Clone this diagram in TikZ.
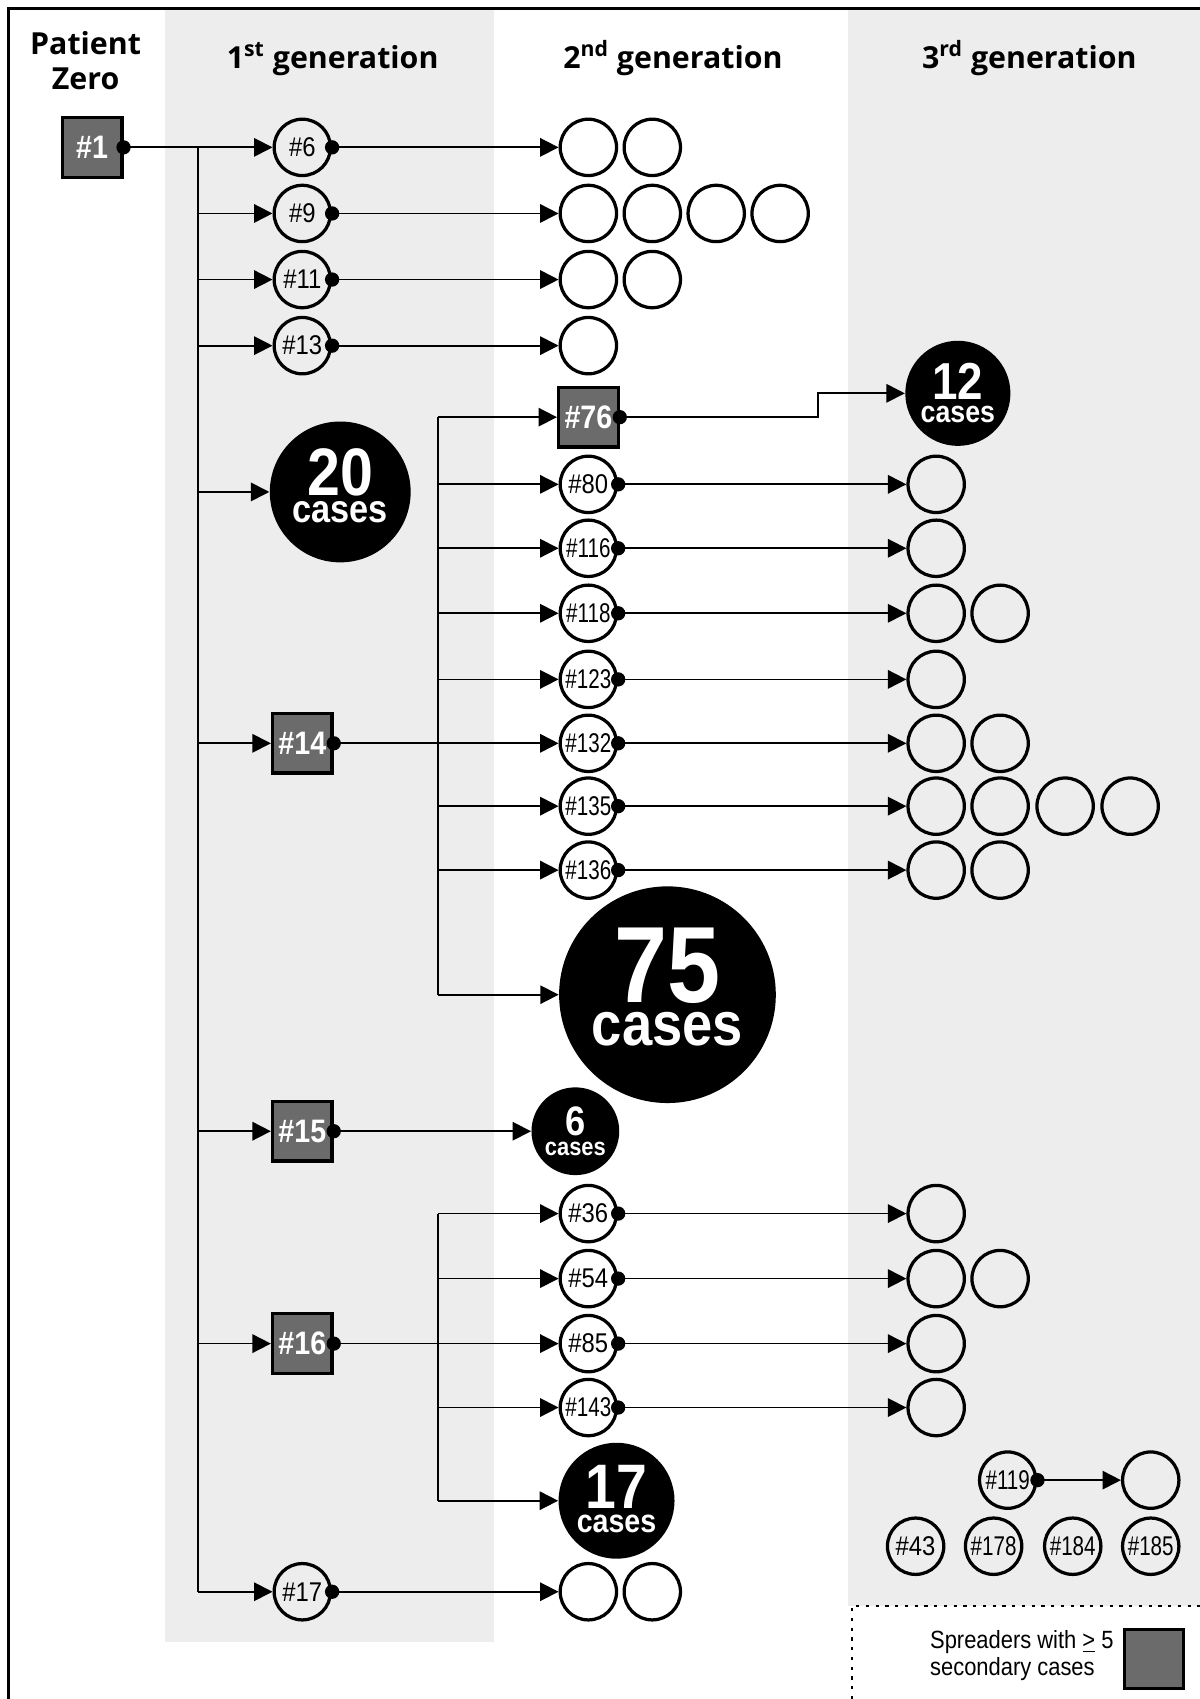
\documentclass[tikz,border=0pt]{standalone}
\usepackage{fontspec}
\setmainfont{Liberation Sans}
\newfontfamily\hdrfont{Open Sans}
\newfontfamily\lblfont[FakeStretch=0.88]{Liberation Sans}
\newfontfamily\lblnfont[FakeStretch=0.76]{Liberation Sans}
\newfontfamily\bigfont[FakeStretch=0.88]{Liberation Sans}
\usetikzlibrary{arrows.meta}
\definecolor{bandgray}{RGB}{237,237,237}
\definecolor{sgray}{RGB}{107,107,107}
\newcommand\casetext[5]{\vbox{\offinterlineskip\hbox to 0pt{\hss\fontsize{#1}{#1}\selectfont #2\hss}\kern#4\hbox to 0pt{\hss\fontsize{#3}{#3}\selectfont cases\hss}\kern#5}}
\begin{document}
\begin{tikzpicture}[x=0.5pt,y=-0.5pt,
  conn/.style={line width=0.8pt},
  arr/.style={conn,-{Triangle[length=8.5pt,width=8.5pt]}},
  pcase/.style={circle,draw,line width=1.5pt,minimum size=26pt,inner sep=0pt,font=\lblfont\fontsize{12.5}{12.5}\selectfont},
  pcasen/.style={pcase,font=\lblnfont\fontsize{12.5}{12.5}\selectfont},
  ocase/.style={circle,draw,line width=1.5pt,minimum size=26pt,inner sep=0pt},
  spread/.style={rectangle,draw,line width=1.5pt,fill=sgray,minimum size=27.5pt,inner sep=0pt,text=white,font=\bigfont\bfseries\fontsize{15}{15}\selectfont},
  cluster/.style={circle,fill=black,text=white,inner sep=0pt,font=\bigfont\bfseries},
  hdr/.style={font=\hdrfont\bfseries\fontsize{14}{16}\selectfont,inner sep=0pt}
]
\useasboundingbox (0,0) rectangle (1107,1568);
% bands
\fill[bandgray] (152,8) rectangle (456,1515);
\fill[bandgray] (783,8) rectangle (1107,1482);
\draw[line width=1.2pt] (8,1568) -- (8,8) -- (1107,8);
\draw[line width=1pt,dash pattern=on 1.5pt off 3pt] (786,1568) -- (786,1482) -- (1107,1482);

% headers
\node[hdr,align=center,anchor=north] (hpz) at (79,29) {Patient\\Zero};
\node[hdr,anchor=base] (h1) at (307,63) {1\textsuperscript{st} generation};
\node[hdr,anchor=base] (h2) at (621,63) {2\textsuperscript{nd} generation};
\node[hdr,anchor=base] (h3) at (950,63) {3\textsuperscript{rd} generation};

% patient zero
\node[spread] (n1) at (85,136) {\#1};

% first generation
\node[pcase] (n6) at (279,136) {\#6};
\node[pcase] (n9) at (279,197) {\#9};
\node[pcase] (n11) at (279,258) {\#11};
\node[pcase] (n13) at (279,319) {\#13};
\node[cluster,minimum size=65pt] (c20) at (314,454) {\casetext{31pt}{20}{18pt}{2.5pt}{6pt}};
\node[spread] (n14) at (279,686) {\#14};
\node[spread] (n15) at (279,1044) {\#15};
\node[spread] (n16) at (279,1240) {\#16};
\node[pcase] (n17) at (279,1469) {\#17};

% second generation
\node[ocase] (a61) at (543,136) {};
\node[ocase] (a62) at (602,136) {};
\node[ocase] (a91) at (543,197) {};
\node[ocase] (a92) at (602,197) {};
\node[ocase] (a93) at (661,197) {};
\node[ocase] (a94) at (720,197) {};
\node[ocase] (a111) at (543,258) {};
\node[ocase] (a112) at (602,258) {};
\node[ocase] (a131) at (543,319) {};
\node[spread] (n76) at (543,385) {\#76};
\node[pcase] (n80) at (543,447) {\#80};
\node[pcasen] (n116) at (543,506) {\#116};
\node[pcasen] (n118) at (543,566) {\#118};
\node[pcasen] (n123) at (543,627) {\#123};
\node[pcasen] (n132) at (543,686) {\#132};
\node[pcasen] (n135) at (543,744) {\#135};
\node[pcasen] (n136) at (543,803) {\#136};
\node[cluster,minimum size=100pt] (c75) at (616,918) {\casetext{50pt}{75}{28.5pt}{4pt}{7pt}};
\node[cluster,minimum size=40.5pt] (c6) at (531,1044) {\casetext{19pt}{6}{11.5pt}{2.5pt}{0pt}};
\node[pcase] (n36) at (543,1120) {\#36};
\node[pcase] (n54) at (543,1180) {\#54};
\node[pcase] (n85) at (543,1240) {\#85};
\node[pcasen] (n143) at (543,1299) {\#143};
\node[cluster,minimum size=53.5pt] (c17) at (569,1385) {\casetext{29pt}{17}{15pt}{3pt}{2pt}};
\node[ocase] (a171) at (543,1469) {};
\node[ocase] (a172) at (602,1469) {};

% third generation
\node[cluster,minimum size=48.5pt] (c12) at (884,363) {\casetext{24pt}{12}{14pt}{3pt}{0pt}};
\node[ocase] (b80) at (864,447) {};
\node[ocase] (b116) at (864,506) {};
\node[ocase] (b118) at (864,566) {};
\node[ocase] (b118b) at (923,566) {};
\node[ocase] (b123) at (864,627) {};
\node[ocase] (b132) at (864,686) {};
\node[ocase] (b132b) at (923,686) {};
\node[ocase] (b135) at (864,744) {};
\node[ocase] (b135b) at (923,744) {};
\node[ocase] (b135c) at (983,744) {};
\node[ocase] (b135d) at (1043,744) {};
\node[ocase] (b136) at (864,803) {};
\node[ocase] (b136b) at (923,803) {};
\node[ocase] (b36) at (864,1120) {};
\node[ocase] (b54) at (864,1180) {};
\node[ocase] (b54b) at (923,1180) {};
\node[ocase] (b85) at (864,1240) {};
\node[ocase] (b143) at (864,1299) {};
\node[pcasen] (n119) at (930,1366) {\#119};
\node[ocase] (b119) at (1062,1366) {};
\node[pcase] (n43) at (845,1427) {\#43};
\node[pcasen] (n178) at (917,1427) {\#178};
\node[pcasen] (n184) at (990,1427) {\#184};
\node[pcasen] (n185) at (1062,1427) {\#185};

% legend
\node[font=\lblfont\fontsize{11.5}{12.5}\selectfont,align=left,anchor=west,inner sep=0pt] (legtext) at (858,1528) {Spreaders with \underline{>} 5\\secondary cases};
\node[spread,minimum size=27.5pt] (legbox) at (1065,1531) {};

% connectors: patient zero
\coordinate (T1) at (183,136);
\coordinate (T1e) at (183,1469);
\draw[arr] (n1.east) -- (n6.west);
\draw[conn] (T1) -- (T1e);
\foreach \t in {n9,n11,n13,c20,n14,n15,n16,n17}
  \draw[arr] (T1 |- \t.west) -- (\t.west);

% first generation to second
\draw[arr] (n6.east) -- (a61.west);
\draw[arr] (n9.east) -- (a91.west);
\draw[arr] (n11.east) -- (a111.west);
\draw[arr] (n13.east) -- (a131.west);
\draw[arr] (n17.east) -- (a171.west);
\draw[arr] (n15.east) -- (c6.west);
\draw[arr] (n14.east) -- (n132.west);
\coordinate (T2) at (404,385);
\coordinate (T2e) at (404,918);
\draw[conn] (T2) -- (T2e);
\foreach \t in {n76,n80,n116,n118,n123,n135,n136,c75}
  \draw[arr] (T2 |- \t.west) -- (\t.west);
\draw[arr] (n16.east) -- (n85.west);
\coordinate (T3) at (404,1120);
\coordinate (T3e) at (404,1385);
\draw[conn] (T3) -- (T3e);
\foreach \t in {n36,n54,n143,c17}
  \draw[arr] (T3 |- \t.west) -- (\t.west);

% second generation to third
\coordinate (k76) at (755,375);
\draw[arr] (n76.east) -| (k76) |- (c12.west);
\draw[arr] (n80.east) -- (b80.west);
\draw[arr] (n116.east) -- (b116.west);
\draw[arr] (n118.east) -- (b118.west);
\draw[arr] (n123.east) -- (b123.west);
\draw[arr] (n132.east) -- (b132.west);
\draw[arr] (n135.east) -- (b135.west);
\draw[arr] (n136.east) -- (b136.west);
\draw[arr] (n36.east) -- (b36.west);
\draw[arr] (n54.east) -- (b54.west);
\draw[arr] (n85.east) -- (b85.west);
\draw[arr] (n143.east) -- (b143.west);
\draw[arr] (n119.east) -- (b119.west);

% source dots
\foreach \s in {n1,n6,n9,n11,n13,n14,n15,n16,n17,n76,n80,n116,n118,n123,n132,n135,n136,n36,n54,n85,n143,n119}
  \fill (\s.east) circle (3.3pt);
\end{tikzpicture}
\end{document}
